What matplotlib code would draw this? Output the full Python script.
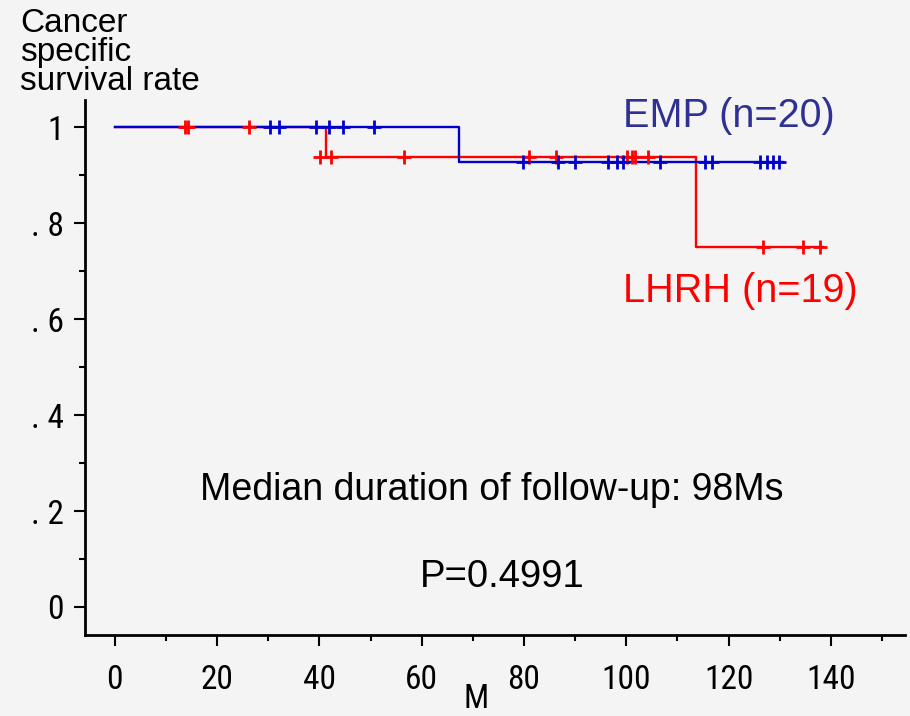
import numpy as np
import matplotlib
matplotlib.use('Agg')
import matplotlib.pyplot as plt
from matplotlib.ticker import MultipleLocator
from matplotlib import font_manager

# step curves (time of step, survival after step)
emp_steps_t = [0, 67.3]
emp_steps_s = [1.0, 0.9286]
emp_end = 130.7
lhrh_steps_t = [0, 41.3, 113.7]
lhrh_steps_s = [1.0, 0.9375, 0.75]
lhrh_end = 138.4

# censored marks (time, level)
emp_cens_t = [30.3, 32.1, 39.3, 41.8, 44.6, 50.7,
              79.8, 86.7, 90.0, 96.5, 98.1, 99.3, 106.6,
              115.4, 116.7, 126.2, 127.5, 128.7, 129.9]
emp_cens_s = [1.0] * 6 + [0.9286] * 13
lhrh_cens_t = [13.75, 14.3, 26.2,
               40.2, 42.3, 56.5, 81.0, 86.3, 100.1, 101.1, 101.7, 104.3,
               126.8, 134.5, 137.9]
lhrh_cens_s = [1.0] * 3 + [0.9375] * 9 + [0.75] * 3

xticks = [0, 20, 40, 60, 80, 100, 120, 140]
yticks = [0, 0.2, 0.4, 0.6, 0.8, 1.0]
ylabels = ['0', '. 2', '. 4', '. 6', '. 8', '1']

blue = '#0000cc'
red = '#ff0000'
bg = '#f4f4f4'
sans = ['Liberation Sans', 'DejaVu Sans']

# pick a narrow face for the tick numbers if one is installed
names = {f.name for f in font_manager.fontManager.ttflist}
narrow_face = None
for cand in ['Liberation Sans Narrow', 'DejaVu Sans Condensed', 'Roboto Condensed',
             'Open Sans Condensed', 'Noto Sans Condensed']:
    if cand in names:
        narrow_face = cand
        break
condensed = [f.name for f in font_manager.fontManager.ttflist
             if f.stretch in ('condensed', 'semi-condensed', 'extra-condensed', 450, 500, 300)]
if narrow_face is None and condensed:
    narrow_face = condensed[0]
if narrow_face is None:
    narrow_face = 'Liberation Sans'
narrow = [narrow_face, 'DejaVu Sans']
nsize = 24

fig = plt.figure(figsize=(9.1, 7.16), dpi=100, facecolor=bg)
ax = fig.add_axes([84.7 / 910, 81 / 716, (905 - 84.7) / 910, (635 - 100) / 716])
ax.set_facecolor(bg)


def draw_curve(ts, ss, end, color):
    xs = list(ts) + [end]
    ys = list(ss) + [ss[-1]]
    ax.step(xs, ys, where='post', color=color, lw=1.7, zorder=3)


draw_curve(lhrh_steps_t, lhrh_steps_s, lhrh_end, red)
draw_curve(emp_steps_t, emp_steps_s, emp_end, blue)
ax.plot(lhrh_cens_t, lhrh_cens_s, ls='none', marker='+', ms=10.5, mew=2, color=red, zorder=4)
ax.plot(emp_cens_t, emp_cens_s, ls='none', marker='+', ms=10.5, mew=2, color=blue, zorder=5)

ax.set_xlim(-5.9, 154.5)
ax.set_ylim(-0.0584, 1.0573)
ax.set_xticks(xticks)
ax.set_xticklabels([str(v) for v in xticks], family=narrow, fontsize=nsize, stretch='condensed')
ax.set_yticks(yticks)
ax.set_yticklabels(ylabels, family=narrow, fontsize=nsize, stretch='condensed')
ax.xaxis.set_minor_locator(MultipleLocator(10))
ax.yaxis.set_minor_locator(MultipleLocator(0.1))
ax.tick_params(which='major', direction='out', length=8, width=1.5, color='black')
ax.tick_params(which='minor', direction='out', length=4, width=1.5, color='black')
ax.tick_params(axis='x', which='major', pad=13)
ax.tick_params(axis='y', which='major', pad=7)

for side in ['top', 'right']:
    ax.spines[side].set_visible(False)
for side in ['left', 'bottom']:
    ax.spines[side].set_linewidth(2)

ax.text(99.4, 1.001, 'EMP (n=20)', color='#2e3192', fontsize=28.5, family=sans, va='baseline')
ax.text(99.4, 0.636, 'LHRH (n=19)', color=red, fontsize=28.5, family=sans, va='baseline')
ax.text(16.6, 0.223, 'Median duration of follow-up: 98Ms', fontsize=27, family=sans, va='baseline')
ax.text(59.7, 0.0417, 'P=0.4991', fontsize=27.5, family=sans, va='baseline')

fig.text(20 / 910, 1 - 8 / 716, 'Cancer\nspecific\nsurvival rate', fontsize=24, family=sans,
         va='top', ha='left', linespacing=0.92)
fig.text(476 / 910, 1 - 708 / 716, 'M', fontsize=nsize, family=narrow, stretch='condensed',
         va='baseline', ha='center')

fig.savefig('out.png', dpi=100, facecolor=bg)
